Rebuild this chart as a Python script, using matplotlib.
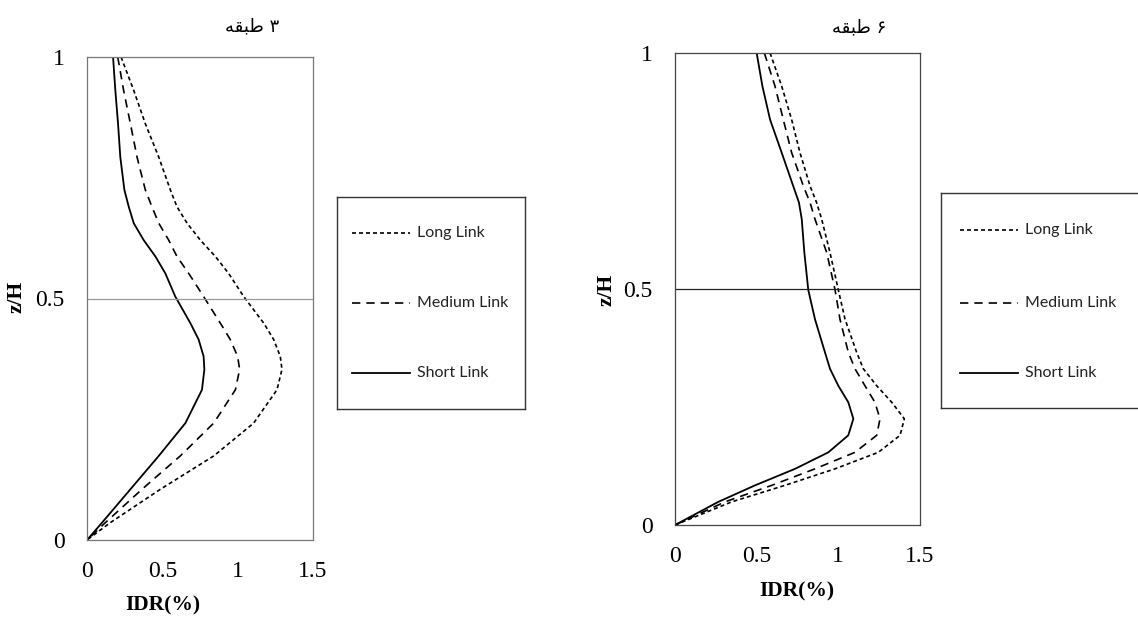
import numpy as np
import matplotlib
matplotlib.use("Agg")
import matplotlib.pyplot as plt

# ---- data ----
z3 = [1.0, 0.931, 0.862, 0.793, 0.725, 0.690, 0.656, 0.621, 0.587, 0.552, 0.504,
      0.449, 0.415, 0.380, 0.353, 0.311, 0.242, 0.174, 0.105, 0.036, 0.0]
long3 = [0.226, 0.310, 0.387, 0.476, 0.553, 0.597, 0.664, 0.752, 0.852, 0.940, 1.040,
         1.173, 1.239, 1.283, 1.294, 1.261, 1.106, 0.841, 0.487, 0.155, 0.0]
medium3 = [0.204, 0.243, 0.288, 0.332, 0.387, 0.431, 0.476, 0.542, 0.597, 0.675, 0.774,
           0.885, 0.951, 1.000, 1.013, 0.985, 0.841, 0.619, 0.365, 0.122, 0.0]
short3 = [0.173, 0.188, 0.206, 0.221, 0.248, 0.277, 0.310, 0.376, 0.454, 0.520, 0.586,
          0.686, 0.741, 0.774, 0.779, 0.763, 0.653, 0.476, 0.288, 0.100, 0.0]

z6 = [1.0, 0.930, 0.859, 0.789, 0.718, 0.683, 0.648, 0.577, 0.498, 0.436, 0.366,
      0.331, 0.295, 0.260, 0.225, 0.190, 0.154, 0.119, 0.084, 0.049, 0.0]
long6 = [0.582, 0.653, 0.714, 0.765, 0.827, 0.867, 0.898, 0.949, 1.000, 1.041, 1.112,
         1.153, 1.235, 1.327, 1.404, 1.378, 1.245, 0.980, 0.673, 0.347, 0.0]
medium6 = [0.547, 0.612, 0.663, 0.714, 0.786, 0.827, 0.857, 0.929, 0.980, 1.010, 1.061,
           1.102, 1.163, 1.224, 1.255, 1.235, 1.102, 0.857, 0.592, 0.306, 0.0]
short6 = [0.500, 0.535, 0.582, 0.653, 0.724, 0.759, 0.776, 0.792, 0.816, 0.857, 0.918,
          0.949, 1.000, 1.061, 1.092, 1.061, 0.939, 0.735, 0.490, 0.265, 0.0]

series_names = ["Long Link", "Medium Link", "Short Link"]
x_ticks = [0, 0.5, 1, 1.5]
x_ticklabels = ["0", "0.5", "1", "1.5"]
y_ticks = [0, 0.5, 1]
y_ticklabels = ["0", "0.5", "1"]
# Persian titles, already shaped and in visual (left-to-right) order
titles = ["\uFEEA\uFED8\uFE92\uFEC3 \u06F3", "\uFEEA\uFED8\uFE92\uFEC3 \u06F6"]

styles = [
    dict(linestyle=(0, (2.4, 1.8)), lw=1.2),
    dict(linestyle=(0, (5.0, 3.6)), lw=1.2),
    dict(linestyle="-", lw=1.3),
]

W, H = 1138, 624
fig = plt.figure(figsize=(W / 100, H / 100), dpi=100)
serif = ["Liberation Serif", "DejaVu Serif"]


def fbox(x0, y0, x1, y1):
    # pixel box (top-left origin) -> figure fraction rect
    return [x0 / W, 1 - y1 / H, (x1 - x0) / W, (y1 - y0) / H]


def make_panel(rect, z, data, spine_color, hline_color, xlab_xy, ylab_xy):
    ax = fig.add_axes(rect)
    for vals, st in zip(data, styles):
        ax.plot(vals, z, color="black", solid_joinstyle="round", **st)
    ax.axhline(0.5, color=hline_color, lw=0.9)
    ax.set_xlim(0, 1.5)
    ax.set_ylim(0, 1)
    ax.set_xticks(x_ticks)
    ax.set_xticklabels(x_ticklabels, fontfamily=serif, fontsize=17)
    ax.set_yticks(y_ticks)
    ax.set_yticklabels(y_ticklabels, fontfamily=serif, fontsize=17)
    ax.tick_params(length=0)
    ax.tick_params(axis="x", pad=15)
    ax.tick_params(axis="y", pad=16)
    for s in ax.spines.values():
        s.set_color(spine_color)
        s.set_linewidth(0.9)
    ax.set_xlabel("IDR(%)", fontfamily=serif, fontsize=15.5, fontweight="bold")
    ax.xaxis.set_label_coords(*xlab_xy)
    ax.set_ylabel("z/H", fontfamily=serif, fontsize=15.5, fontweight="bold")
    ax.yaxis.set_label_coords(*ylab_xy)
    return ax


def make_legend(rect, width_px, height_px, rows_px, line_px, text_px):
    lx = fig.add_axes(rect)
    lx.set_xlim(0, width_px)
    lx.set_ylim(height_px, 0)
    lx.set_xticks([])
    lx.set_yticks([])
    for s in lx.spines.values():
        s.set_color("#333333")
        s.set_linewidth(1.0)
        s.set_clip_on(False)
    for name, st, ry in zip(series_names, styles, rows_px):
        lx.plot(line_px, [ry, ry], color="black", clip_on=False, **st)
        lx.text(text_px, ry, name, fontfamily=["Lato", "DejaVu Sans"], fontsize=11.5,
                va="center", ha="left", color="#222222")
    return lx


make_panel(fbox(87, 57, 313, 540), z3, [long3, medium3, short3],
           "#777777", "#999999", (0.336, -0.115), (-0.268, 0.503))
make_panel(fbox(675, 53, 920, 525), z6, [long6, medium6, short6],
           "#444444", "#222222", (0.498, -0.12), (-0.24, 0.498))

make_legend(fbox(337, 197, 525, 409), 188, 212, [36, 106, 176], [15, 73], 80)
make_legend(fbox(941, 193, 1150, 408), 209, 215, [37, 110, 180], [19, 77], 84)

fig.text(252 / W, 1 - 26 / H, titles[0], ha="center", va="center", fontsize=13,
         family=["DejaVu Sans"])
fig.text(859 / W, 1 - 27 / H, titles[1], ha="center", va="center", fontsize=13,
         family=["DejaVu Sans"])

fig.savefig("out.png", dpi=100)
